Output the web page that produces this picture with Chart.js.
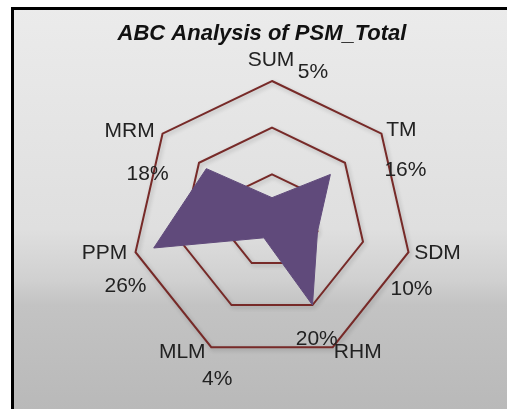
<!DOCTYPE html>
<html>
<head>
<meta charset="utf-8">
<script src="https://cdn.jsdelivr.net/npm/chart.js@4/dist/chart.umd.min.js"></script>
<style>
  html, body { margin: 0; padding: 0; background: #ffffff; overflow: hidden; }
  #wrap { width: 507px; height: 409px; position: relative; }
</style>
</head>
<body>
<div id="wrap"><canvas id="c" width="507" height="409"></canvas></div>
<script>
// Categories around the radar, clockwise from the top
const categories = ['SUM', 'TM', 'SDM', 'RHM', 'MLM', 'PPM', 'MRM'];
// Share of PSM_Total per category (%)
const shares = [5, 16, 10, 20, 4, 26, 18];
// Grid rings of the radial axis (%)
const ringTicks = [0, 10, 20, 30];
const chartTitle = 'ABC Analysis of PSM_Total';

// Where each category name / value label sits, relative to its outer vertex
const nameOffsets = [[-1, -21], [20, -4], [29, 1], [25, 5], [-29, 5], [-31, 1], [-33, -3]];
const valueOffsets = [[41, -9], [24, 36], [3, 37], [-16, -8], [6, 32], [-10, 34], [-15, 40]];

const LABEL_FONT = '21px "Liberation Sans", Arial, sans-serif';

// Framed grey gradient panel behind everything
const panelPlugin = {
  id: 'panel',
  beforeDraw(chart) {
    const ctx = chart.ctx;
    const w = chart.width, h = chart.height;
    ctx.save();
    ctx.fillStyle = '#ffffff';
    ctx.fillRect(0, 0, w, h);
    const g = ctx.createLinearGradient(0, 8, 0, h);
    g.addColorStop(0, '#ebebeb');
    g.addColorStop(0.55, '#dfdfdf');
    g.addColorStop(0.68, '#d0d0d0');
    g.addColorStop(0.74, '#c3c3c3');
    g.addColorStop(1, '#b9b9b9');
    ctx.fillStyle = g;
    ctx.fillRect(12, 8, w - 12, h - 8);
    // frame: left and top edges
    ctx.fillStyle = '#000000';
    ctx.fillRect(11, 7, 3, h - 7);
    ctx.fillRect(11, 7, w - 11, 3);
    ctx.restore();
    // soft drop shadow for the grid rings
    ctx.shadowColor = 'rgba(0,0,0,0.22)';
    ctx.shadowBlur = 4;
    ctx.shadowOffsetX = 1.5;
    ctx.shadowOffsetY = 2;
  },
  beforeDatasetsDraw(chart) {
    const ctx = chart.ctx;
    ctx.shadowColor = 'rgba(0,0,0,0)';
    ctx.shadowBlur = 0;
    ctx.shadowOffsetX = 0;
    ctx.shadowOffsetY = 0;
  }
};

// Title plus category names and value labels
const labelPlugin = {
  id: 'radarLabels',
  afterDraw(chart) {
    const ctx = chart.ctx;
    const scale = chart.scales.r;
    ctx.save();
    ctx.textAlign = 'center';
    ctx.textBaseline = 'middle';
    ctx.fillStyle = '#111111';
    ctx.font = 'italic bold 22px "Liberation Sans", Arial, sans-serif';
    ctx.fillText(chartTitle, 262, 34);

    ctx.font = LABEL_FONT;
    ctx.fillStyle = '#222222';
    categories.forEach((name, i) => {
      const p = scale.getPointPosition(i, scale.drawingArea);
      ctx.fillText(name, p.x + nameOffsets[i][0], p.y + nameOffsets[i][1]);
      ctx.fillText(shares[i] + '%', p.x + valueOffsets[i][0], p.y + valueOffsets[i][1]);
    });
    ctx.restore();
  }
};

new Chart(document.getElementById('c'), {
  type: 'radar',
  data: {
    labels: categories,
    datasets: [{
      label: 'PSM_Total',
      data: shares,
      backgroundColor: '#604a7b',
      borderColor: '#604a7b',
      borderWidth: 1,
      pointRadius: 0,
      fill: true
    }]
  },
  options: {
    responsive: false,
    animation: false,
    layout: { padding: { left: 131.5, right: 94.5, top: 81, bottom: 47 } },
    plugins: {
      legend: { display: false },
      title: { display: false },
      tooltip: { enabled: false }
    },
    scales: {
      r: {
        min: ringTicks[0],
        max: ringTicks[ringTicks.length - 1],
        afterBuildTicks(axis) { axis.ticks = ringTicks.map(v => ({ value: v })); },
        ticks: { display: false },
        angleLines: { display: false },
        pointLabels: { display: false },
        grid: { color: '#772a28', lineWidth: 2, circular: false }
      }
    }
  },
  plugins: [panelPlugin, labelPlugin]
});
</script>
</body>
</html>
